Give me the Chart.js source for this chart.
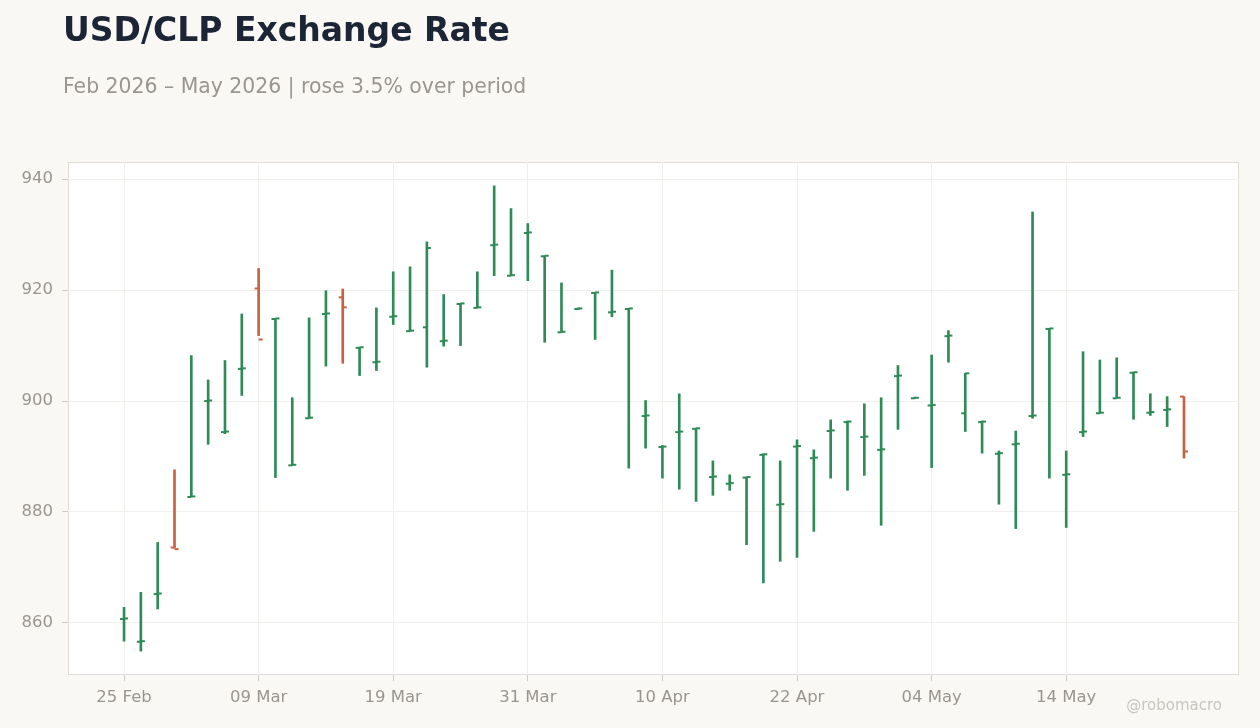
<!DOCTYPE html>
<html>
<head>
<meta charset="utf-8">
<script src="https://cdn.jsdelivr.net/npm/chart.js@4.4.1/dist/chart.umd.min.js"></script>
<style>
  body { margin: 0; background: #f9f8f5; font-family: "DejaVu Sans", sans-serif; }
  #wrap { position: relative; width: 1260px; height: 728px; overflow: hidden; }
  #title { position: absolute; left: 63px; top: 10px; font-size: 33px; line-height: 40px; font-weight: bold; color: #1c2535; }
  #subtitle { position: absolute; left: 63px; top: 74px; font-size: 20.4px; line-height: 24px; color: #9a958f; }
  #credit { position: absolute; right: 38px; top: 696px; font-size: 15px; line-height: 18px; color: #c9c6c1; }
  canvas { position: absolute; left: 0; top: 0; }
</style>
</head>
<body>
<div id="wrap">
  <canvas id="chart" width="1260" height="728"></canvas>
  <div id="title">USD/CLP Exchange Rate</div>
  <div id="subtitle">Feb 2026 – May 2026 | rose 3.5% over period</div>
  <div id="credit">@robomacro</div>
</div>
<script>
// trading days
const dates = [
  '25 Feb', '26 Feb', '27 Feb',
  '02 Mar', '03 Mar', '04 Mar', '05 Mar', '06 Mar',
  '09 Mar', '10 Mar', '11 Mar', '12 Mar', '13 Mar',
  '16 Mar', '17 Mar', '18 Mar', '19 Mar', '20 Mar',
  '23 Mar', '24 Mar', '25 Mar', '26 Mar', '27 Mar',
  '30 Mar', '31 Mar', '01 Apr', '02 Apr', '03 Apr',
  '06 Apr', '07 Apr', '08 Apr', '09 Apr', '10 Apr',
  '13 Apr', '14 Apr', '15 Apr', '16 Apr', '17 Apr',
  '20 Apr', '21 Apr', '22 Apr', '23 Apr', '24 Apr',
  '27 Apr', '28 Apr', '29 Apr', '30 Apr', '01 May',
  '04 May', '05 May', '06 May', '07 May', '08 May',
  '11 May', '12 May', '13 May', '14 May', '15 May',
  '18 May', '19 May', '20 May', '21 May', '22 May',
  '25 May'
];

const opens = [
  860.7, 856.6, 865.2, 873.6, 882.7, 900.0, 894.4, 905.8, 920.3, 914.8,
  888.4, 896.9, 915.7, 918.7, 909.6, 907.0, 915.2, 912.6, 913.3, 910.8,
  917.5, 916.8, 928.1, 922.6, 930.3, 926.1, 912.4, 916.6, 919.5, 916.0,
  916.6, 897.3, 891.7, 894.4, 895.0, 886.3, 885.1, 886.2, 890.3, 881.3,
  891.8, 889.7, 894.6, 896.2, 893.5, 891.2, 904.5, 900.5, 899.2, 911.7,
  897.8, 896.2, 890.5, 892.2, 897.3, 913.0, 886.7, 894.4, 897.8, 900.5,
  905.1, 897.9, 898.4, 900.8
];
const highs = [
  862.8, 865.5, 874.5, 887.6, 908.2, 903.8, 907.3, 915.7, 923.9, 914.9,
  900.6, 915.0, 919.9, 920.2, 909.7, 916.8, 923.3, 924.2, 928.7, 919.2,
  917.6, 923.3, 938.8, 934.7, 932.0, 926.2, 921.3, 916.8, 919.6, 923.6,
  916.7, 900.1, 892.0, 901.3, 895.1, 889.2, 886.7, 886.3, 890.5, 889.2,
  893.0, 891.2, 896.6, 896.4, 899.5, 900.6, 906.4, 900.7, 908.3, 912.7,
  905.0, 896.4, 891.0, 894.6, 934.1, 913.1, 891.0, 908.9, 907.4, 907.8,
  905.2, 901.3, 900.8, 900.8
];
const lows = [
  856.7, 854.9, 862.5, 873.5, 882.7, 892.2, 894.1, 901.0, 911.8, 886.2,
  888.4, 896.9, 906.3, 906.8, 904.6, 905.5, 913.8, 912.6, 906.1, 909.9,
  910.0, 916.8, 922.6, 922.6, 921.7, 910.6, 912.4, 916.5, 911.1, 915.2,
  887.9, 891.5, 886.1, 884.1, 881.9, 883.0, 883.9, 874.1, 867.2, 871.1,
  871.8, 876.5, 886.1, 883.9, 886.6, 877.6, 894.9, 900.5, 888.0, 907.0,
  894.5, 890.6, 881.4, 877.0, 896.9, 886.1, 877.2, 893.6, 897.8, 900.5,
  896.7, 897.4, 895.4, 889.7
];
const closes = [
  860.8, 856.7, 865.3, 873.3, 882.8, 900.1, 894.5, 905.9, 911.1, 914.9,
  888.5, 897.0, 915.8, 916.9, 909.7, 907.1, 915.3, 912.7, 927.6, 910.9,
  917.6, 916.9, 928.2, 922.7, 930.4, 926.2, 912.5, 916.7, 919.6, 916.1,
  916.7, 897.4, 891.8, 894.5, 895.1, 886.4, 885.2, 886.3, 890.4, 881.4,
  891.9, 889.8, 894.7, 896.3, 893.6, 891.3, 904.6, 900.6, 899.3, 911.8,
  905.0, 896.3, 890.6, 892.3, 897.4, 913.1, 886.8, 894.5, 897.9, 900.6,
  905.2, 898.0, 898.5, 890.9
];

const xTickIdx = [0, 8, 16, 24, 32, 40, 48, 56];
const yTicks = [860, 880, 900, 920, 940];

const UP = '#2e8b57';
const DOWN = '#c8613f';
const GREY = '#9a958f';

function barColor(i) {
  return closes[i] >= opens[i] ? UP : DOWN;
}

// little canvas used as point style: half tick to the left or right
function tickImg(color, side) {
  var c = document.createElement('canvas');
  c.width = 10;
  c.height = 4;
  var g = c.getContext('2d');
  g.fillStyle = color;
  g.fillRect(side == 'left' ? 1 : 5, 1, 4, 2);
  return c;
}
var imgs = {
  left: { up: tickImg(UP, 'left'), down: tickImg(DOWN, 'left') },
  right: { up: tickImg(UP, 'right'), down: tickImg(DOWN, 'right') }
};
function tickStyle(side) {
  return function(ctx) {
    return barColor(ctx.dataIndex) == UP ? imgs[side].up : imgs[side].down;
  };
}

//plot background + frame
var frame = {
  id: 'frame',
  beforeDraw: function(chart) {
    var a = chart.chartArea, c = chart.ctx;
    c.save();
    c.fillStyle = '#ffffff';
    c.fillRect(a.left, a.top, a.right - a.left, a.bottom - a.top);
    c.strokeStyle = '#e0dcd5';
    c.lineWidth = 1;
    c.strokeRect(a.left + 0.5, a.top + 0.5, a.right - a.left - 1, a.bottom - a.top - 1);
    c.restore();
  }
};

const config = {
  type: 'bar',
  data: {
    datasets: [{
      type: 'bar',
      data: dates.map(function(d, i) { return { x: i, y: [lows[i], highs[i]] }; }),
      backgroundColor: function(ctx) { return barColor(ctx.dataIndex); },
      borderWidth: 0,
      borderSkipped: false,
      barThickness: 2,
      order: 2
    }, {
      type: 'line',
      data: dates.map(function(d, i) { return { x: i, y: opens[i] }; }),
      showLine: false,
      pointStyle: tickStyle('left'),
      pointRadius: 5,
      order: 1
    }, {
      type: 'line',
      data: dates.map(function(d, i) { return { x: i, y: closes[i] }; }),
      showLine: false,
      pointStyle: tickStyle('right'),
      pointRadius: 5,
      order: 1
    }]
  },
  options: {
    responsive: false,
    animation: false,
    events: [],
    layout: { padding: { left: 0, top: 162, right: 21, bottom: 0 } },
    plugins: {
      legend: { display: false },
      tooltip: { enabled: false }
    },
    scales: {
      x: {
        type: 'linear',
        min: -3.33,
        max: 66.27,
        offset: false,
        afterBuildTicks: function(s) { s.ticks = xTickIdx.map(function(v) { return { value: v }; }); },
        afterFit: function(s) { s.height = 53; },
        ticks: {
          callback: function(v) { return dates[v]; },
          color: GREY,
          font: { family: 'DejaVu Sans', size: 16.5 },
          padding: 7,
          maxRotation: 0,
          autoSkip: false
        },
        grid: { offset: false, color: '#f0efec', tickColor: '#cfcac3', tickLength: 6 },
        border: { display: false }
      },
      y: {
        min: 850.6,
        max: 943.1,
        afterBuildTicks: function(s) { s.ticks = yTicks.map(function(v) { return { value: v }; }); },
        afterFit: function(s) { s.width = 68; },
        ticks: {
          color: GREY,
          font: { family: 'DejaVu Sans', size: 16.5 },
          padding: 9
        },
        grid: { color: '#f0efec', tickColor: '#cfcac3', tickLength: 6 },
        border: { display: false }
      }
    }
  },
  plugins: [frame]
};

const myChart = new Chart(document.getElementById('chart'), config);
</script>
</body>
</html>
